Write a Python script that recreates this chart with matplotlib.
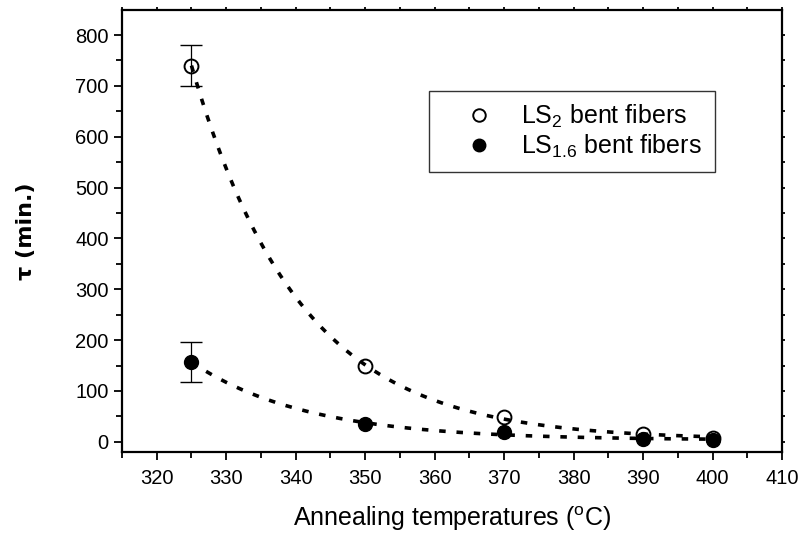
import numpy as np
import matplotlib
matplotlib.use("Agg")
import matplotlib.pyplot as plt
from matplotlib.ticker import MultipleLocator

plt.rcParams['font.family'] = ['Liberation Sans', 'DejaVu Sans']
plt.rcParams['mathtext.fontset'] = 'custom'
plt.rcParams['mathtext.rm'] = 'Liberation Sans'
plt.rcParams['mathtext.it'] = 'Liberation Sans:italic'
plt.rcParams['mathtext.bf'] = 'Liberation Sans:bold'

# Annealing temperatures (°C) and relaxation times tau (min.)
temps = [325, 350, 370, 390, 400]
tau_ls2 = [740, 150, 48, 15, 8]
tau_ls16 = [157, 35, 20, 5, 3]
err_ls2 = [40, 0, 0, 0, 0]
err_ls16 = [40, 0, 0, 0, 0]


def exp_decay_fit(x, y):
    """Least-squares fit of y = y0 + A*exp(-(x - x[0])/t)."""
    x = np.asarray(x, float)
    y = np.asarray(y, float)
    best = None
    for t in np.linspace(5, 60, 1101):
        basis = np.column_stack([np.ones_like(x), np.exp(-(x - x[0]) / t)])
        coef, *_ = np.linalg.lstsq(basis, y, rcond=None)
        res = np.sum((basis @ coef - y) ** 2)
        if best is None or res < best[0]:
            best = (res, t, coef)
    _, t, (y0, a) = best
    return lambda xx: y0 + a * np.exp(-(xx - x[0]) / t)


fig = plt.figure(figsize=(8, 5.33), dpi=100)
ax = fig.add_axes([0.1525, 0.152, 0.825, 0.829])

xs = np.linspace(temps[0], temps[-1], 300)
dots = dict(color='black', lw=2.6, linestyle=(0, (1.8, 3.0)), zorder=2)
ax.plot(xs, exp_decay_fit(temps, tau_ls2)(xs), **dots)
ax.plot(xs, exp_decay_fit(temps, tau_ls16)(xs), **dots)

# error bars only on the first temperature
for vals, errs in ((tau_ls2, err_ls2), (tau_ls16, err_ls16)):
    eb = ax.errorbar(temps[:1], vals[:1], yerr=errs[:1], fmt='none',
                     ecolor='black', elinewidth=0.9, capsize=8, capthick=1.0,
                     zorder=3)
    caps = eb[1]
    if caps:
        caps[-1].set_color('#555555')

ax.plot(temps, tau_ls2, 'o', ms=10, mfc='none', mec='black', mew=1.4, zorder=4,
        label=r'LS$_{2}$ bent fibers')
ax.plot(temps, tau_ls16, 'o', ms=10, mfc='black', mec='black', mew=1.0, zorder=4,
        label=r'LS$_{1.6}$ bent fibers')

ax.set_xlim(315, 410)
ax.set_ylim(-20, 849)
ax.xaxis.set_major_locator(MultipleLocator(10))
ax.xaxis.set_minor_locator(MultipleLocator(5))
ax.yaxis.set_major_locator(MultipleLocator(100))
ax.yaxis.set_minor_locator(MultipleLocator(50))

for s in ax.spines.values():
    s.set_linewidth(1.6)

ax.tick_params(which='both', direction='out', width=1.3, labelsize=14.5,
               top=True, right=True, labeltop=False, labelright=False)
ax.tick_params(which='major', length=6)
ax.tick_params(which='minor', length=4)
ax.tick_params(axis='x', which='both', pad=6)
for tk in ax.xaxis.get_major_ticks() + ax.xaxis.get_minor_ticks():
    tk.tick2line.set_markersize(2)
for tk in ax.yaxis.get_major_ticks() + ax.yaxis.get_minor_ticks():
    tk.tick2line.set_markersize(2)

ax.set_xlabel(r'Annealing temperatures ($^{\rm o}$C)', fontsize=18, labelpad=12)
ax.set_ylabel('τ (min.)', fontsize=16, fontweight='bold', labelpad=28,
              family=['DejaVu Sans'])

leg = ax.legend(loc='upper left', bbox_to_anchor=(0.465, 0.818), fontsize=18,
                frameon=True, fancybox=False, edgecolor='black', markerscale=0.9,
                handlelength=3.0, handletextpad=0.2, borderpad=0.5,
                labelspacing=0.1, borderaxespad=0)
leg.get_frame().set_linewidth(1.0)

fig.savefig('out.png', dpi=100)
